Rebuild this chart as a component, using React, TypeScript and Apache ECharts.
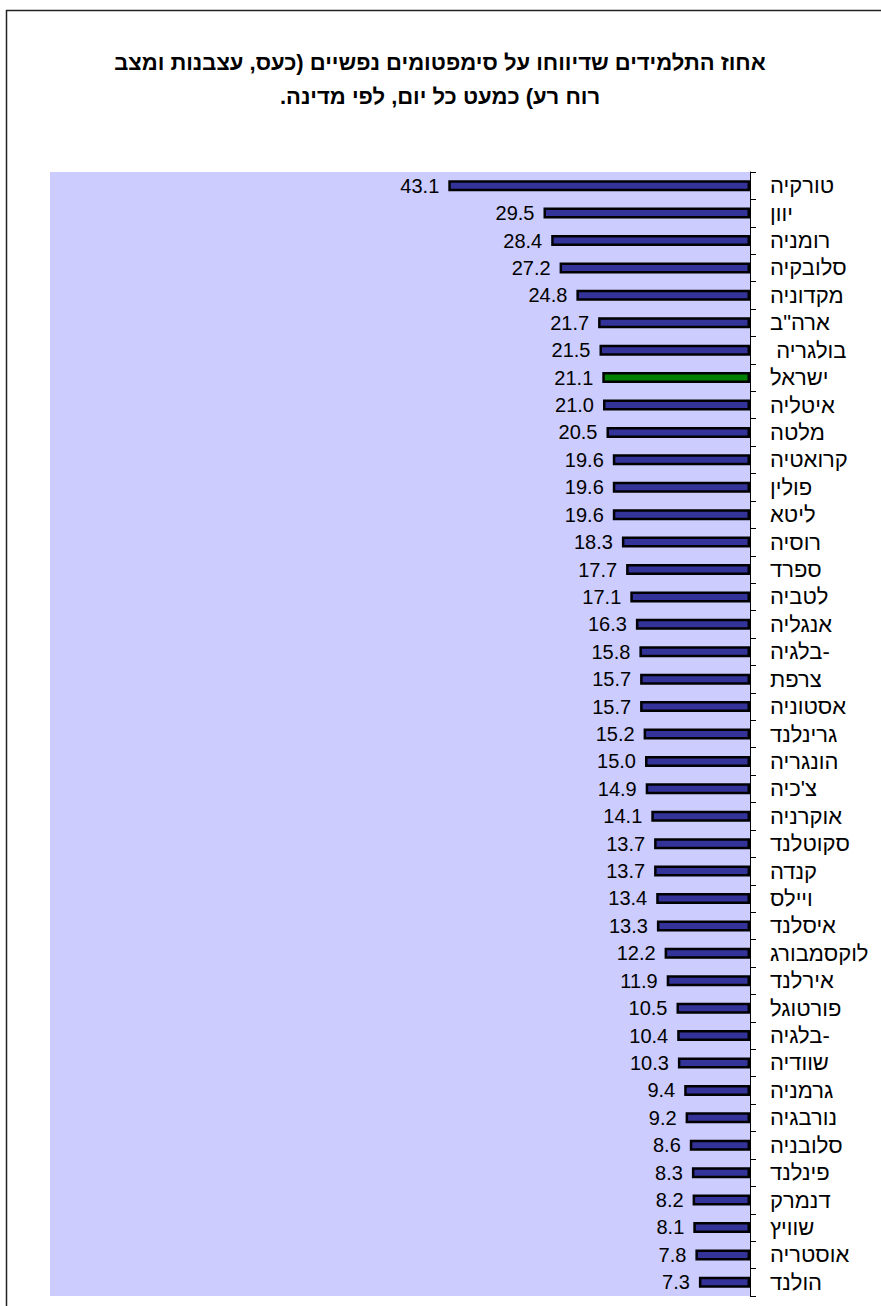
import React, { useEffect, useRef } from "react";
import * as echarts from "echarts";

const countries = [
  "טורקיה", "יוון", "רומניה", "סלובקיה", "מקדוניה", "ארה\"ב", " בולגריה", "ישראל",
  "איטליה", "מלטה", "קרואטיה", "פולין", "ליטא", "רוסיה", "ספרד", "לטביה",
  "אנגליה", "בלגיה-", "צרפת", "אסטוניה", "גרינלנד", "הונגריה", "צ'כיה", "אוקרניה",
  "סקוטלנד", "קנדה", "ויילס", "איסלנד", "לוקסמבורג", "אירלנד", "פורטוגל", "בלגיה-",
  "שוודיה", "גרמניה", "נורבגיה", "סלובניה", "פינלנד", "דנמרק", "שוויץ", "אוסטריה", "הולנד",
];

const values = [
  43.1, 29.5, 28.4, 27.2, 24.8, 21.7, 21.5, 21.1,
  21.0, 20.5, 19.6, 19.6, 19.6, 18.3, 17.7, 17.1,
  16.3, 15.8, 15.7, 15.7, 15.2, 15.0, 14.9, 14.1,
  13.7, 13.7, 13.4, 13.3, 12.2, 11.9, 10.5, 10.4,
  10.3, 9.4, 9.2, 8.6, 8.3, 8.2, 8.1, 7.8, 7.3,
];

const highlighted = "ישראל";

const titleLines = [
  "אחוז התלמידים שדיווחו על סימפטומים נפשיים (כעס, עצבנות ומצב\u200F",
  "רוח רע) כמעט כל יום, לפי מדינה.\u200F",
];

export default function App() {
  const ref = useRef<HTMLDivElement>(null);
  useEffect(() => {
    if (!ref.current) return;
    const chart = echarts.init(ref.current, null, { renderer: "svg" });
    const font = "'Liberation Sans', Arial, sans-serif";
    chart.setOption({
      animation: false,
      backgroundColor: "#ffffff",
      textStyle: { fontFamily: font },
      graphic: [
        {
          type: "rect",
          shape: { x: 6.5, y: 10.5, width: 1000, height: 1400 },
          style: { fill: "none", stroke: "#222", lineWidth: 1.5 },
          silent: true,
        },
        ...titleLines.map((t, i) => ({
          type: "text",
          x: 440,
          y: 62 + i * 34,
          silent: true,
          style: {
            text: t,
            fill: "#000",
            font: `bold 22px ${font}`,
            textAlign: "center",
            textVerticalAlign: "middle",
          },
        })),
      ],
      grid: {
        left: 50,
        right: 131,
        top: 172,
        bottom: 10,
        show: true,
        backgroundColor: "#CCCCFF",
        borderWidth: 0,
      },
      xAxis: {
        type: "value",
        inverse: true,
        min: 0,
        max: 100,
        show: false,
        splitLine: { show: false },
      },
      yAxis: {
        type: "category",
        position: "right",
        inverse: true,
        data: countries,
        axisLine: { show: true, lineStyle: { color: "#000", width: 1 } },
        axisTick: { show: true, length: 6, interval: 0, lineStyle: { color: "#000" } },
        axisLabel: {
          color: "#000",
          fontSize: 22,
          fontFamily: font,
          margin: 20,
          align: "left",
          interval: 0,
        },
        splitLine: { show: false },
      },
      series: [
        {
          type: "bar",
          barWidth: 11,
          data: values.map((v, i) => ({
            value: v,
            itemStyle: {
              color: countries[i] === highlighted ? "#008000" : "#333399",
              borderColor: "#000",
              borderWidth: 2.5,
            },
          })),
          label: {
            show: true,
            position: "left",
            distance: 9,
            color: "#000",
            fontSize: 20,
            fontFamily: font,
            formatter: (p: any) => Number(p.value).toFixed(1),
          },
        },
      ],
    });
    return () => chart.dispose();
  }, []);
  return (
    <div
      ref={ref}
      style={{ position: "fixed", left: 0, top: 0, width: 881, height: 1306 }}
    />
  );
}
